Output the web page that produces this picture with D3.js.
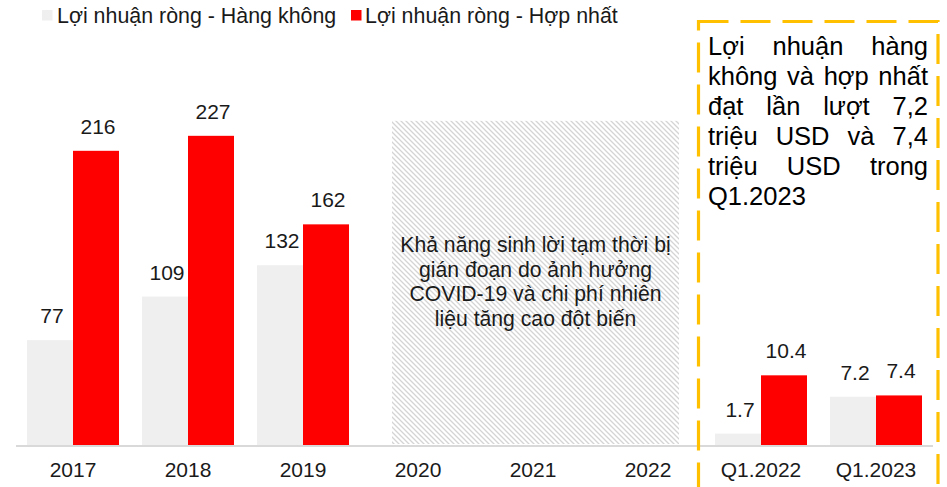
<!DOCTYPE html>
<html>
<head>
<meta charset="utf-8">
<script src="https://cdn.jsdelivr.net/npm/d3@7"></script>
<style>
  html, body { margin: 0; padding: 0; background: #fff; }
  svg { display: block; font-family: "Liberation Sans", Arial, sans-serif; }
</style>
</head>
<body>
<svg id="chart" width="947" height="487"></svg>
<script>
// ---- Data ----
const years = ["2017", "2018", "2019", "2020", "2021", "2022"];
const airlineProfit = [77, 109, 132, null, null, null];
const consolidatedProfit = [216, 227, 162, null, null, null];
const quarters = ["Q1.2022", "Q1.2023"];
const quarterAirline = [1.7, 7.2];
const quarterConsolidated = [10.4, 7.4];
const seriesNames = ["Lợi nhuận ròng - Hàng không", "Lợi nhuận ròng - Hợp nhất"];
const covidNote = ["Khả năng sinh lời tạm thời bị", "gián đoạn do ảnh hưởng", "COVID-19 và chi phí nhiên", "liệu tăng cao đột biến"];
const boxNote = ["Lợi nhuận hàng", "không và hợp nhất", "đạt lần lượt 7,2", "triệu USD và 7,4", "triệu USD trong", "Q1.2023"];

const colors = { airline: "#efefef", consolidated: "#ff0000", axis: "#d9d9d9", box: "#ffc000", text: "#1a1a1a" };

const svg = d3.select("#chart");
const baseY = 445;

// ---- Scales ----
const x = d3.scaleBand().domain(years).range([15.5, 705.5]).paddingInner(0.2).paddingOuter(0.1);
const y = d3.scaleLinear().domain([0, 300]).range([baseY, baseY - 300 * 1.362]);
const xq = d3.scaleBand().domain(quarters).range([703.5, 933.5]).paddingInner(0.2).paddingOuter(0.1);
const yq = d3.scaleLinear().domain([0, 60]).range([baseY, baseY - 60 * 6.7]);

// ---- Hatch pattern ----
const defs = svg.append("defs");
const pat = defs.append("pattern").attr("id", "hatch").attr("width", 5).attr("height", 5)
  .attr("patternUnits", "userSpaceOnUse");
pat.append("path").attr("d", "M0,0 L5,5 M-1,4 L1,6 M4,-1 L6,1")
  .attr("stroke", "#d4d4d4").attr("stroke-width", 1.3);

// Hatched region over 2020-2022
const hx0 = x("2020") + 20, hx1 = x("2022") + x.bandwidth() - 15;
svg.append("rect").attr("x", hx0).attr("y", y(238)).attr("width", hx1 - hx0).attr("height", baseY - 1 - y(238))
  .attr("fill", "url(#hatch)");

svg.append("text").attr("text-anchor", "middle").attr("font-size", 21.2).attr("fill", colors.text)
  .selectAll("tspan").data(covidNote).join("tspan")
  .attr("x", (hx0 + hx1) / 2).attr("y", (d, i) => 252 + i * 24.7).text(d => d);

// ---- Bars: yearly ----
const half = x.bandwidth() / 2;
const yearData = years.map((c, i) => ({ c, a: airlineProfit[i], b: consolidatedProfit[i] }));
const gY = svg.append("g");
gY.selectAll("rect.a").data(yearData.filter(d => d.a != null)).join("rect")
  .attr("x", d => x(d.c)).attr("y", d => y(d.a)).attr("width", half).attr("height", d => y(0) - y(d.a))
  .attr("fill", colors.airline);
gY.selectAll("rect.b").data(yearData.filter(d => d.b != null)).join("rect")
  .attr("x", d => x(d.c) + half).attr("y", d => y(d.b)).attr("width", half).attr("height", d => y(0) - y(d.b))
  .attr("fill", colors.consolidated);
gY.selectAll("text.a").data(yearData.filter(d => d.a != null)).join("text")
  .attr("x", d => x(d.c) + half / 2 + 2).attr("y", d => y(d.a) - 17).attr("text-anchor", "middle")
  .attr("font-size", 21).attr("fill", colors.text).text(d => d.a);
gY.selectAll("text.b").data(yearData.filter(d => d.b != null)).join("text")
  .attr("x", d => x(d.c) + half * 1.5 + 2).attr("y", d => y(d.b) - 17).attr("text-anchor", "middle")
  .attr("font-size", 21).attr("fill", colors.text).text(d => d.b);

// ---- Bars: quarterly ----
const qhalf = xq.bandwidth() / 2;
const qData = quarters.map((c, i) => ({ c, a: quarterAirline[i], b: quarterConsolidated[i] }));
const gQ = svg.append("g");
gQ.selectAll("rect.a").data(qData).join("rect")
  .attr("x", d => xq(d.c)).attr("y", d => yq(d.a)).attr("width", qhalf).attr("height", d => yq(0) - yq(d.a))
  .attr("fill", colors.airline);
gQ.selectAll("rect.b").data(qData).join("rect")
  .attr("x", d => xq(d.c) + qhalf).attr("y", d => yq(d.b)).attr("width", qhalf).attr("height", d => yq(0) - yq(d.b))
  .attr("fill", colors.consolidated);
const fmt = d3.format(".1f");
gQ.selectAll("text.a").data(qData).join("text")
  .attr("x", d => xq(d.c) + qhalf / 2 + 2).attr("y", d => yq(d.a) - 17).attr("text-anchor", "middle")
  .attr("font-size", 21).attr("fill", colors.text).text(d => fmt(d.a));
gQ.selectAll("text.b").data(qData).join("text")
  .attr("x", d => xq(d.c) + qhalf * 1.5 + 2).attr("y", d => yq(d.b) - 17).attr("text-anchor", "middle")
  .attr("font-size", 21).attr("fill", colors.text).text(d => fmt(d.b));

// ---- Axes ----
const axisY = baseY + 1;
const ax1 = svg.append("g").attr("transform", `translate(0,${axisY})`)
  .call(d3.axisBottom(x).tickSize(0).tickPadding(0));
const ax2 = svg.append("g").attr("transform", `translate(0,${axisY})`)
  .call(d3.axisBottom(xq).tickSize(0).tickPadding(0));
[ax1, ax2].forEach(a => {
  a.select(".domain").remove();
  a.selectAll("text").attr("font-size", 21).attr("font-family", "Liberation Sans, Arial, sans-serif")
    .attr("fill", colors.text).attr("dy", null).attr("y", 31);
});
svg.append("line").attr("x1", 16).attr("x2", 933).attr("y1", axisY).attr("y2", axisY)
  .attr("stroke", colors.axis).attr("stroke-width", 2);

// ---- Legend ----
const legend = [
  { name: seriesNames[0], color: colors.airline, sx: 42, tx: 57 },
  { name: seriesNames[1], color: colors.consolidated, sx: 351, tx: 365 }
];
const lg = svg.append("g");
lg.selectAll("rect").data(legend).join("rect")
  .attr("x", d => d.sx).attr("y", 10).attr("width", 10.5).attr("height", 10.5).attr("fill", d => d.color);
lg.selectAll("text").data(legend).join("text")
  .attr("x", d => d.tx).attr("y", 22.5).attr("font-size", 21.4).attr("fill", colors.text).text(d => d.name);

// ---- Dashed callout box ----
svg.append("rect").attr("x", 698.5).attr("y", 21.5).attr("width", 239.5).attr("height", 500)
  .attr("fill", "none").attr("stroke", colors.box).attr("stroke-width", 3.2)
  .attr("stroke-dasharray", "30,12");

// Justified box text
const bx0 = 708, bx1 = 928, fs = 25.5;
const boxG = svg.append("g").attr("font-size", fs).attr("fill", "#000");
boxNote.forEach((line, i) => {
  const words = line.split(" ");
  const by = 54.5 + i * 30;
  const t = boxG.append("text").attr("y", by);
  const spans = words.map(w => t.append("tspan").text(w));
  const widths = spans.map(s => s.node().getComputedTextLength());
  const last = i === boxNote.length - 1;
  const total = d3.sum(widths);
  const gap = (!last && words.length > 1) ? (bx1 - bx0 - total) / (words.length - 1) : fs * 0.278;
  let cx = bx0;
  spans.forEach((s, j) => { s.attr("x", cx); cx += widths[j] + gap; });
});
</script>
</body>
</html>
